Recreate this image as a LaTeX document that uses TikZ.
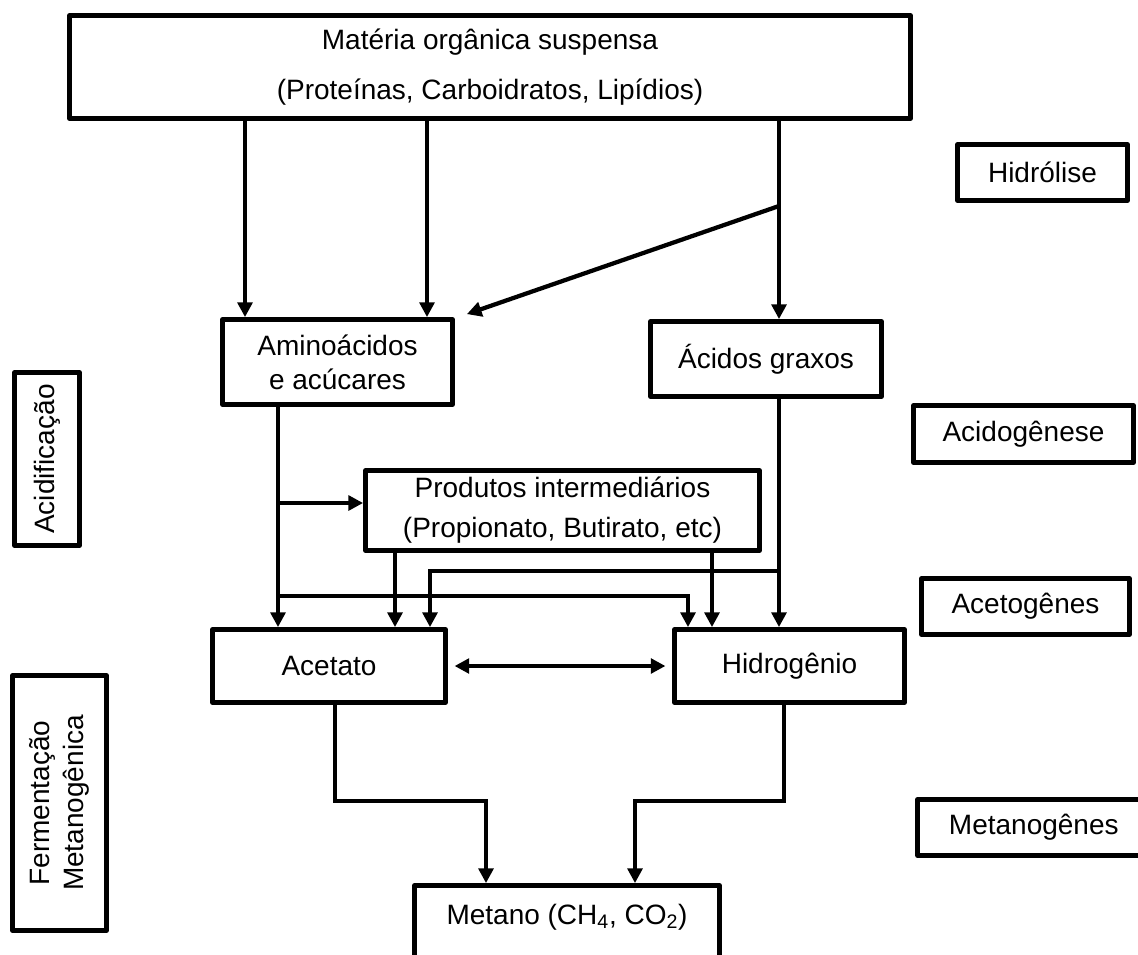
\documentclass[tikz,border=0pt]{standalone}
\usepackage{fontspec}
\setmainfont{Liberation Sans}
\usetikzlibrary{arrows.meta}
\begin{document}
\begin{tikzpicture}[x=0.75pt, y=-0.75pt,
  box/.style={draw, line width=3.6pt, line join=round, inner sep=0pt, align=center,
    font=\fontsize{21}{25}\selectfont},
  sz/.style 2 args={minimum width=#1*0.75pt, minimum height=#2*0.75pt},
  txt/.style={inner sep=0pt, align=center, font=\fontsize{21}{25}\selectfont},
  arr/.style={line width=3.2pt, line join=miter, -{Triangle[length=11pt, width=11pt]}},
  dbl/.style={line width=3.2pt, {Triangle[length=11pt, width=11pt]}-{Triangle[length=11pt, width=11pt]},
    shorten <=5pt, shorten >=5pt}]
\useasboundingbox (0,0) rectangle (1138,954);

% main chain
\node[box, sz={841}{103}, font=\fontsize{21}{37.5}\selectfont] (mat) at (490,67)
  {\raisebox{-3pt}{Matéria orgânica suspensa}\\\raisebox{-3pt}{(Proteínas, Carboidratos, Lipídios)}};
\node[box, sz={230}{85}, font=\fontsize{21}{25.5}\selectfont] (amino) at (337.5,362)
  {Aminoácidos\\e acúcares};
\node[box, sz={231}{75}] (acgr) at (766,359) {Ácidos graxos};
\node[box, sz={394}{80}, font=\fontsize{21}{30}\selectfont] (prod) at (562.5,510.5)
  {Produtos intermediários\\(Propionato, Butirato, etc)};
\node[box, sz={233}{73}] (acet) at (329,666) {Acetato};
\node[box, sz={230}{73}] (hidro) at (789.5,666) {Hidrogênio};
\node[box, sz={305}{130}] (metano) at (567,950.5) {};
\node[txt] (metanotxt) at (567,917) {Metano (CH\textsubscript{4}, CO\textsubscript{2})};

% stage labels, right
\node[box, sz={170}{56}] (hidrol) at (1042.5,172.5) {Hidrólise};
\node[box, sz={220}{57}] (acidog) at (1023.5,434) {Acidogênese};
\node[box, sz={208}{56}] (acetog) at (1025.5,606.5) {Acetogênes};
\node[box, sz={232}{56}, anchor=west] (metanog) at (915.4,827.5) {Metanogênes};

% stage labels, left
\node[box, sz={173}{65}, rotate=90] (acidif) at (47,459) {Acidificação};
\node[box, sz={255}{94}, rotate=90, font=\fontsize{21}{26}\selectfont] (ferm) at (59.5,803)
  {Fermentação\\Metanogênica};

% guide coordinates for the vertical runs
\coordinate (x245) at (245,0);
\coordinate (x427) at (427,0);
\coordinate (x779) at (779,0);
\coordinate (x278) at (278,0);
\coordinate (x395) at (395,0);
\coordinate (x430) at (430,0);
\coordinate (x688) at (688,0);
\coordinate (x712) at (712,0);
\coordinate (x335) at (335,0);
\coordinate (x784) at (784,0);
\coordinate (split) at (779,206);
\coordinate (b1) at (278,503);
\coordinate (b2) at (278,596);
\coordinate (b3) at (779,571);
\coordinate (j1) at (486,801);
\coordinate (j2) at (635,801);

% hydrolysis
\draw[arr] (mat.south -| x245) -- (amino.north -| x245);
\draw[arr] (mat.south -| x427) -- (amino.north -| x427);
\draw[arr] (mat.south -| x779) -- (acgr.north -| x779);
\draw[arr] (split) -- ([shift={(12,-3)}]amino.north east);

% acidogenesis
\draw[arr] (amino.south -| x278) -- (acet.north -| x278);
\draw[arr] (b1) -- (b1 -| prod.west);
\draw[arr] (b2) -| (hidro.north -| x688);
\draw[arr] (prod.south -| x395) -- (acet.north -| x395);
\draw[arr] (prod.south -| x712) -- (hidro.north -| x712);
\draw[arr] (acgr.south -| x779) -- (hidro.north -| x779);
\draw[arr] (b3) -| (acet.north -| x430);
\draw[dbl] (acet.east) -- (hidro.west);

% methanogenesis
\draw[arr] (acet.south -| x335) |- (j1) -- (j1 |- metano.north);
\draw[arr] (hidro.south -| x784) |- (j2) -- (j2 |- metano.north);
\end{tikzpicture}
\end{document}
